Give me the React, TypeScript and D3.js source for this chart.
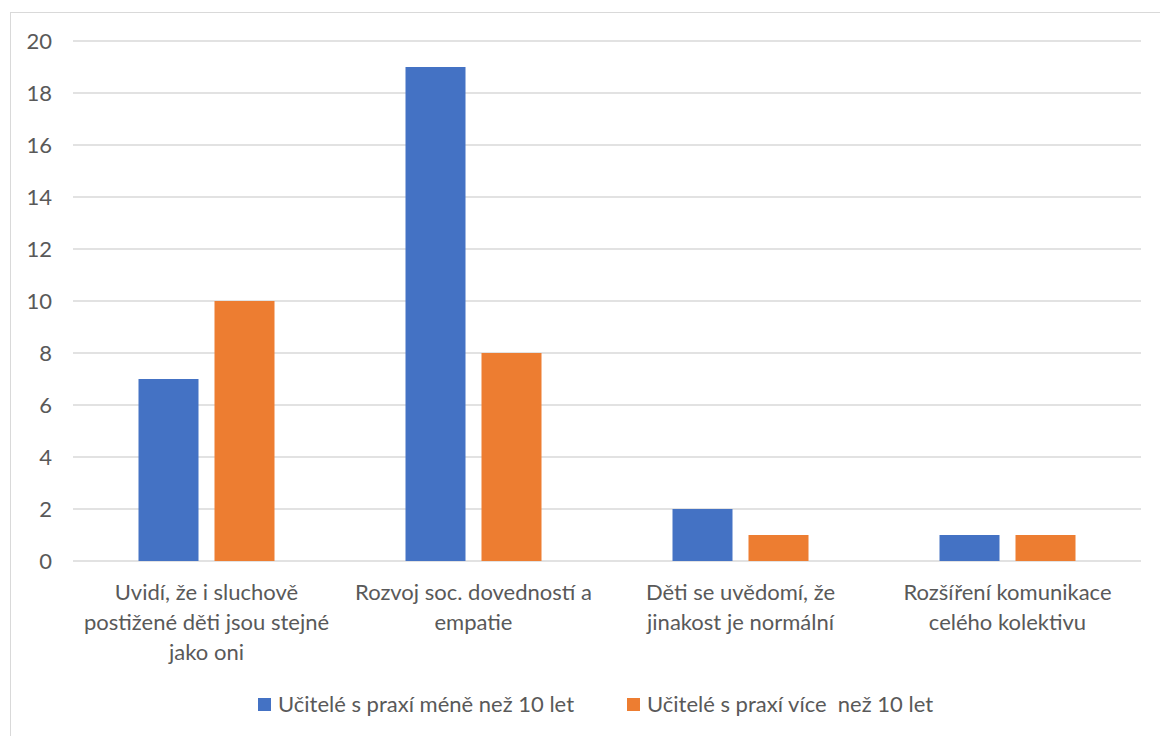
import React from "react";
import * as d3 from "d3";

const categories: string[][] = [
  ["Uvidí, že i sluchově", "postižené děti jsou stejné", "jako oni"],
  ["Rozvoj soc. dovedností a", "empatie"],
  ["Děti se uvědomí, že", "jinakost je normální"],
  ["Rozšíření komunikace", "celého kolektivu"],
];
const seriesNames = ["Učitelé s praxí méně než 10 let", "Učitelé s praxí více  než 10 let"];
const lessThan10 = [7, 19, 2, 1];
const moreThan10 = [10, 8, 1, 1];
const yTicks = [0, 2, 4, 6, 8, 10, 12, 14, 16, 18, 20];
const colors = ["#4472C4", "#ED7D31"];

const W = 1160;
const H = 736;
const FONT = "Lato, 'Open Sans', sans-serif";
const FS = 22;

export default function App() {
  const left = 73;
  const right = 1141;
  const top = 41;
  const bottom = 561;

  const y = d3.scaleLinear().domain([0, 20]).range([bottom, top]);
  const x0 = d3
    .scaleBand<number>()
    .domain(categories.map((_, i) => i))
    .range([left, right]);
  const groupW = 136;
  const x1 = d3
    .scaleBand<number>()
    .domain([0, 1])
    .range([0, groupW])
    .paddingInner(16 / 76);
  const values = [lessThan10, moreThan10];

  return (
    <svg
      width={W}
      height={H}
      style={{ position: "absolute", left: 0, top: 0, background: "#fff" }}
    >
      <rect x={10.5} y={12.5} width={1160} height={740} fill="#fff" stroke="#D9D9D9" strokeWidth={1} />
      {yTicks.map((t) => (
        <g key={t}>
          <line x1={left} x2={right} y1={y(t)} y2={y(t)} stroke="#D9D9D9" strokeWidth={1.3} />
          <text
            x={52}
            y={y(t)}
            dy="0.35em"
            textAnchor="end"
            fontFamily={FONT}
            fontSize={FS}
            fill="#595959"
          >
            {t}
          </text>
        </g>
      ))}
      {categories.map((_, ci) => {
        const gx = (x0(ci) as number) + (x0.bandwidth() - groupW) / 2;
        return values.map((vals, si) => (
          <rect
            key={`${ci}-${si}`}
            x={gx + (x1(si) as number)}
            y={y(vals[ci])}
            width={x1.bandwidth()}
            height={y(0) - y(vals[ci])}
            fill={colors[si]}
          />
        ));
      })}
      {categories.map((lines, ci) => {
        const cx = (x0(ci) as number) + x0.bandwidth() / 2;
        return (
          <text
            key={ci}
            textAnchor="middle"
            fontFamily={FONT}
            fontSize={FS}
            fill="#595959"
          >
            {lines.map((l, li) => (
              <tspan key={li} x={cx} y={592} dy={`${0.35 + li * 1.36}em`}>
                {l}
              </tspan>
            ))}
          </text>
        );
      })}
      {seriesNames.map((name, si) => {
        const lx = si === 0 ? 258 : 627;
        return (
          <g key={si}>
            <rect x={lx} y={698} width={13} height={13} fill={colors[si]} />
            <text
              x={lx + 20}
              y={704.5}
              dy="0.35em"
              fontFamily={FONT}
              fontSize={FS}
              fill="#595959"
              style={{ whiteSpace: "pre" }}
            >
              {name}
            </text>
          </g>
        );
      })}
    </svg>
  );
}
